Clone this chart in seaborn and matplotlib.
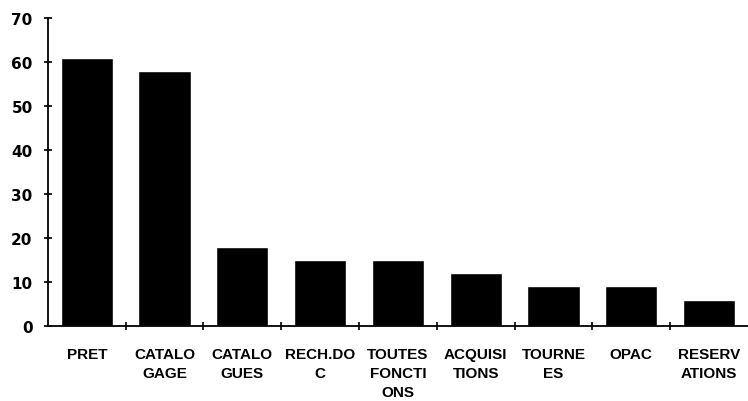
import seaborn as sns
import matplotlib.pyplot as plt
import pandas as pd
from matplotlib.ticker import FixedLocator

# Values
categories = ["PRET", "CATALO\nGAGE", "CATALO\nGUES", "RECH.DO\nC",
              "TOUTES\nFONCTI\nONS", "ACQUISI\nTIONS", "TOURNE\nES",
              "OPAC", "RESERV\nATIONS"]
values = [61, 58, 18, 15, 15, 12, 9, 9, 6]
y_ticks = [0, 10, 20, 30, 40, 50, 60, 70]

data = pd.DataFrame({"fonction": categories, "valeur": values})

sns.set_style("white")
plt.rcParams["font.family"] = ["Liberation Sans", "DejaVu Sans"]

fig = plt.figure(figsize=(7.48, 4.02), dpi=100)
ax = fig.add_axes([0.064, 0.1866, 0.936, 0.7661])

sns.barplot(data=data, x="fonction", y="valeur", color="black",
            saturation=1, width=0.67, ax=ax)

ax.set_xlim(-0.5, 8.5)
ax.set_ylim(0, 70)
ax.set_xlabel("")
ax.set_ylabel("")

sns.despine(ax=ax, top=True, right=True)
for side in ["left", "bottom"]:
    ax.spines[side].set_linewidth(1.3)
    ax.spines[side].set_color("black")

# y axis: bold numbers, ticks crossing the axis
ax.set_yticks(y_ticks)
ax.set_yticklabels([str(v) for v in y_ticks], fontweight="bold",
                   fontsize=11, family="DejaVu Sans")
ax.tick_params(axis="y", direction="inout", length=6, width=1.2,
               pad=8, left=True, colors="black")

# x axis: labels at bar centres, tick marks between categories
ax.set_xticks(range(len(categories)))
ax.set_xticklabels(categories, fontweight="bold", fontsize=11,
                   linespacing=1.45, va="top")
ax.tick_params(axis="x", which="major", length=0, pad=15, colors="black")
ax.xaxis.set_minor_locator(FixedLocator([i + 0.5 for i in range(8)]))
ax.tick_params(axis="x", which="minor", direction="inout", length=6,
               width=1.2, bottom=True, color="black")

fig.savefig("out.png", dpi=100)
plt.close(fig)
